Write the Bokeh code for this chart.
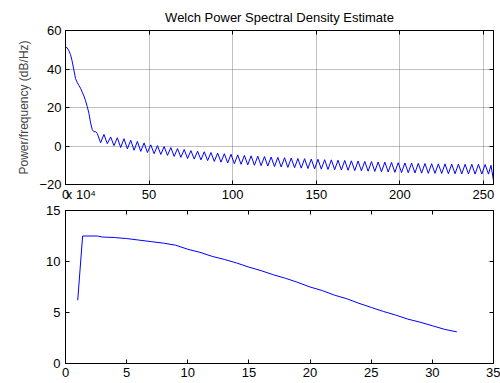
from bokeh.plotting import figure
from bokeh.layouts import column
from bokeh.models import LinearAxis, FixedTicker, Range1d
from bokeh.embed import file_html
from bokeh.resources import INLINE

# ---------------- data ----------------
# Top: Welch PSD estimate (dB/Hz) vs frequency
psd_head_f = [0, 1, 2, 3, 4, 5, 6, 7, 8, 9, 10, 11, 12, 13, 14, 15, 16, 17, 18, 19]
psd_head_db = [51.5, 51, 49.5, 47.5, 44, 39.5, 35, 33, 31.5, 30, 28, 26, 23.5, 20.5,
               17, 12, 8.5, 7.4, 7.5, 6.5]
psd_ripple_f = list(range(21, 255, 2)) + [254.5, 256]
psd_ripple_db = [
    1.7, 6.0, 1.2, 4.7, 0.2, 4.3, -0.8, 3.8, -1.5, 3.0, -2.2, 2.4, -2.8, 1.6, -3.4, 0.6,
    -4.0, 0.2, -4.4, -0.3, -4.9, -0.8, -5.4, -1.3, -5.9, -1.8, -6.5, -2.4, -6.8, -2.7,
    -7.2, -3.0, -7.6, -3.4, -8.0, -3.7, -8.4, -4.0, -8.8, -4.3, -9.2, -4.6, -9.5, -4.9,
    -9.8, -5.1, -10.0, -5.3, -10.2, -5.5, -10.4, -5.7, -10.7, -5.9, -10.9, -6.1, -11.1,
    -6.3, -11.3, -6.5, -11.5, -6.6, -11.7, -6.8, -11.9, -6.9, -12.0, -7.1, -12.2, -7.2,
    -12.3, -7.4, -12.5, -7.5, -12.6, -7.7, -12.8, -7.8, -12.9, -8.0, -13.1, -8.1, -13.2,
    -8.3, -13.4, -8.4, -13.5, -8.5, -13.7, -8.7, -13.8, -8.8, -13.9, -8.9, -14.0, -9.0,
    -14.1, -9.1, -14.2, -9.2, -14.2, -9.3, -14.3, -9.3, -14.4, -9.4, -14.4, -9.4, -14.5,
    -9.5, -14.5, -9.5, -14.6, -9.5, -14.6, -9.6, -14.6, -10.0, -18.0,
]
psd_f = psd_head_f + psd_ripple_f
psd_db = psd_head_db + psd_ripple_db

top_xticks = [0, 50, 100, 150, 200, 250]
top_yticks = [-20, 0, 20, 40, 60]
exponent_text = "x 10\u2074"      # exponent of the lower plot's y axis
exponent_pos = 9.2                # where it sits under the upper plot

# Bottom: values in units of 1e4
bot_x = [1, 1.4, 2.6, 3, 4, 5, 6, 7, 8, 9, 10, 11, 12, 13, 14, 15, 16, 17, 18, 19, 20,
         21, 22, 23, 24, 25, 26, 27, 28, 29, 30, 31, 32]
bot_y = [6.2, 12.5, 12.5, 12.4, 12.35, 12.25, 12.1, 11.95, 11.8, 11.6, 11.2, 10.9, 10.5,
         10.2, 9.85, 9.45, 9.1, 8.7, 8.35, 7.95, 7.5, 7.15, 6.7, 6.35, 5.9, 5.5, 5.1,
         4.75, 4.35, 4.05, 3.7, 3.35, 3.1]
bot_xticks = [0, 5, 10, 15, 20, 25, 30, 35]
bot_yticks = [0, 5, 10, 15]

FONT = "Liberation Sans"
FS = "13px"


def style_axis(ax, ticks, standoff, show_labels=True, show_ticks=True):
    ax.ticker = FixedTicker(ticks=ticks)
    ax.major_tick_in = 4
    ax.major_tick_out = 0
    ax.minor_tick_line_color = None
    ax.axis_line_color = "black" if show_ticks else None
    ax.major_tick_line_color = "black" if show_ticks else None
    ax.major_label_text_font = FONT
    ax.major_label_text_color = "black"
    ax.major_label_text_font_size = FS
    if show_labels:
        ax.major_label_standoff = standoff
    else:
        ax.major_label_overrides = {t: "" for t in ticks}
        ax.major_label_standoff = 0


# ---------------- top figure ----------------
p1 = figure(width=500, height=204, output_backend="svg", toolbar_location=None,
            x_range=Range1d(0, 256), y_range=Range1d(-20, 60),
            x_axis_location=None,
            min_border_left=64, min_border_right=6, min_border_top=30,
            min_border_bottom=20)
p1.title.text = "Welch Power Spectral Density Estimate"
p1.title.align = "center"
p1.title.text_font = FONT
p1.title.text_font_size = FS
p1.title.text_font_style = "normal"
p1.title.text_color = "black"
p1.title.standoff = 12
p1.outline_line_color = "black"

# bottom edge: tick marks only (closest to the frame), then the labels
ax_bt = LinearAxis()
style_axis(ax_bt, top_xticks, 0, show_labels=False)
p1.add_layout(ax_bt, "below")
ax_bl = LinearAxis()
style_axis(ax_bl, top_xticks + [exponent_pos], 2, show_ticks=False)
ax_bl.major_label_overrides = {exponent_pos: exponent_text}
p1.add_layout(ax_bl, "below")

style_axis(p1.yaxis[0], top_yticks, 4)
p1.yaxis[0].axis_label = "Power/frequency (dB/Hz)"
p1.yaxis[0].axis_label_text_font = FONT
p1.yaxis[0].axis_label_text_font_size = "12px"
p1.yaxis[0].axis_label_text_font_style = "normal"
p1.yaxis[0].axis_label_standoff = 5

ax_top = LinearAxis()
style_axis(ax_top, top_xticks, 0, show_labels=False)
p1.add_layout(ax_top, "above")
ax_right = LinearAxis()
style_axis(ax_right, top_yticks, 0, show_labels=False)
p1.add_layout(ax_right, "right")

p1.xgrid.ticker = FixedTicker(ticks=top_xticks)
p1.ygrid.ticker = FixedTicker(ticks=top_yticks)
for g in (p1.xgrid[0], p1.ygrid[0]):
    g.grid_line_color = "#808080"
    g.grid_line_dash = "1 1"
    g.grid_line_width = 1

p1.line(psd_f, psd_db, line_color="#0000ff", line_width=1)

# ---------------- bottom figure ----------------
p2 = figure(width=500, height=179, output_backend="svg", toolbar_location=None,
            x_range=Range1d(0, 35), y_range=Range1d(0, 15),
            min_border_left=65, min_border_right=7, min_border_top=6,
            min_border_bottom=20)
p2.outline_line_color = "black"
p2.grid.visible = False
style_axis(p2.xaxis[0], bot_xticks, 4)
style_axis(p2.yaxis[0], bot_yticks, 5)
ax2_top = LinearAxis()
style_axis(ax2_top, bot_xticks, 0, show_labels=False)
p2.add_layout(ax2_top, "above")
ax2_right = LinearAxis()
style_axis(ax2_right, bot_yticks, 0, show_labels=False)
p2.add_layout(ax2_right, "right")

p2.line(bot_x, bot_y, line_color="#0000ff", line_width=1)

layout = column(p1, p2, spacing=0)
open("out.html", "w").write(file_html(layout, INLINE))
